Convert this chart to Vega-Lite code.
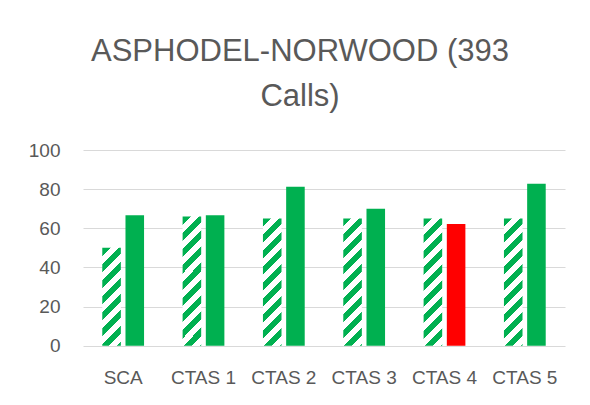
{
  "$schema": "https://vega.github.io/schema/vega-lite/v6.json",
  "width": 482,
  "height": 195.7,
  "autosize": "none",
  "padding": {"left": 83, "top": 150, "right": 25, "bottom": 59.3},
  "background": "white",
  "config": {"view": {"stroke": null}, "font": "Liberation Sans"},
  "title": {
    "text": ["ASPHODEL-NORWOOD (393", "Calls)"],
    "fontSize": 31,
    "font": "Liberation Sans",
    "fontWeight": "normal",
    "color": "#595959",
    "lineHeight": 45.5,
    "anchor": "middle",
    "dx": -24,
    "offset": 28
  },
  "data": {
    "values": [
      {"cat": "SCA", "series": "Target", "value": 50},
      {"cat": "SCA", "series": "Actual", "value": 66.7},
      {"cat": "CTAS 1", "series": "Target", "value": 66},
      {"cat": "CTAS 1", "series": "Actual", "value": 66.7},
      {"cat": "CTAS 2", "series": "Target", "value": 65},
      {"cat": "CTAS 2", "series": "Actual", "value": 81.2},
      {"cat": "CTAS 3", "series": "Target", "value": 65},
      {"cat": "CTAS 3", "series": "Actual", "value": 70},
      {"cat": "CTAS 4", "series": "Target", "value": 65},
      {"cat": "CTAS 4", "series": "Actual", "value": 62.2},
      {"cat": "CTAS 5", "series": "Target", "value": 65},
      {"cat": "CTAS 5", "series": "Actual", "value": 82.8}
    ]
  },
  "mark": {"type": "bar"},
  "encoding": {
    "x": {
      "field": "cat",
      "type": "nominal",
      "sort": ["SCA", "CTAS 1", "CTAS 2", "CTAS 3", "CTAS 4", "CTAS 5"],
      "scale": {"paddingInner": 0.48, "paddingOuter": 0.24},
      "axis": {
        "title": null,
        "domain": false,
        "ticks": false,
        "labelAngle": 0,
        "labelFontSize": 19,
        "labelColor": "#595959",
        "labelBaseline": "alphabetic",
        "labelPadding": 37.6
      }
    },
    "xOffset": {
      "field": "series",
      "type": "nominal",
      "sort": ["Target", "Actual"],
      "scale": {"paddingInner": 0.2, "paddingOuter": 0}
    },
    "y": {
      "field": "value",
      "type": "quantitative",
      "scale": {"domain": [0, 100]},
      "axis": {
        "title": null,
        "values": [0, 20, 40, 60, 80, 100],
        "domain": false,
        "ticks": false,
        "gridColor": "#d9d9d9",
        "gridWidth": 1,
        "labelFontSize": 19,
        "labelColor": "#595959",
        "labelPadding": 23
      }
    },
    "fill": {
      "condition": [
        {
          "test": "datum.series === 'Target' && datum.cat === 'SCA'",
          "value": {
            "gradient": "linear", "x1": 0, "y1": 0, "x2": 0.2178, "y2": 1.1484,
            "stops": [
              {"offset": 0, "color": "#00B050"}, {"offset": 0.0687, "color": "#00B050"}, {"offset": 0.0687, "color": "#ffffff"}, {"offset": 0.1374, "color": "#ffffff"},
              {"offset": 0.1374, "color": "#00B050"}, {"offset": 0.2061, "color": "#00B050"}, {"offset": 0.2061, "color": "#ffffff"}, {"offset": 0.2748, "color": "#ffffff"},
              {"offset": 0.2748, "color": "#00B050"}, {"offset": 0.3435, "color": "#00B050"}, {"offset": 0.3435, "color": "#ffffff"}, {"offset": 0.4122, "color": "#ffffff"},
              {"offset": 0.4122, "color": "#00B050"}, {"offset": 0.4809, "color": "#00B050"}, {"offset": 0.4809, "color": "#ffffff"}, {"offset": 0.5496, "color": "#ffffff"},
              {"offset": 0.5496, "color": "#00B050"}, {"offset": 0.6183, "color": "#00B050"}, {"offset": 0.6183, "color": "#ffffff"}, {"offset": 0.687, "color": "#ffffff"},
              {"offset": 0.687, "color": "#00B050"}, {"offset": 0.7557, "color": "#00B050"}, {"offset": 0.7557, "color": "#ffffff"}, {"offset": 0.8244, "color": "#ffffff"},
              {"offset": 0.8244, "color": "#00B050"}, {"offset": 0.8931, "color": "#00B050"}, {"offset": 0.8931, "color": "#ffffff"}, {"offset": 0.9618, "color": "#ffffff"},
              {"offset": 0.9618, "color": "#00B050"}, {"offset": 1, "color": "#00B050"}
            ]
          }
        },
        {
          "test": "datum.series === 'Target'",
          "value": {
            "gradient": "linear", "x1": 0, "y1": 0, "x2": 0.1637, "y2": 1.122,
            "stops": [
              {"offset": 0, "color": "#00B050"}, {"offset": 0.0549, "color": "#00B050"}, {"offset": 0.0549, "color": "#ffffff"}, {"offset": 0.1098, "color": "#ffffff"},
              {"offset": 0.1098, "color": "#00B050"}, {"offset": 0.1647, "color": "#00B050"}, {"offset": 0.1647, "color": "#ffffff"}, {"offset": 0.2196, "color": "#ffffff"},
              {"offset": 0.2196, "color": "#00B050"}, {"offset": 0.2745, "color": "#00B050"}, {"offset": 0.2745, "color": "#ffffff"}, {"offset": 0.3294, "color": "#ffffff"},
              {"offset": 0.3294, "color": "#00B050"}, {"offset": 0.3843, "color": "#00B050"}, {"offset": 0.3843, "color": "#ffffff"}, {"offset": 0.4392, "color": "#ffffff"},
              {"offset": 0.4392, "color": "#00B050"}, {"offset": 0.4941, "color": "#00B050"}, {"offset": 0.4941, "color": "#ffffff"}, {"offset": 0.549, "color": "#ffffff"},
              {"offset": 0.549, "color": "#00B050"}, {"offset": 0.6039, "color": "#00B050"}, {"offset": 0.6039, "color": "#ffffff"}, {"offset": 0.6588, "color": "#ffffff"},
              {"offset": 0.6588, "color": "#00B050"}, {"offset": 0.7137, "color": "#00B050"}, {"offset": 0.7137, "color": "#ffffff"}, {"offset": 0.7686, "color": "#ffffff"},
              {"offset": 0.7686, "color": "#00B050"}, {"offset": 0.8235, "color": "#00B050"}, {"offset": 0.8235, "color": "#ffffff"}, {"offset": 0.8784, "color": "#ffffff"},
              {"offset": 0.8784, "color": "#00B050"}, {"offset": 0.9333, "color": "#00B050"}, {"offset": 0.9333, "color": "#ffffff"}, {"offset": 0.9882, "color": "#ffffff"},
              {"offset": 0.9882, "color": "#00B050"}, {"offset": 1, "color": "#00B050"}
            ]
          }
        },
        {"test": "datum.cat === 'CTAS 4'", "value": "#FF0000"}
      ],
      "value": "#00B050"
    }
  }
}
